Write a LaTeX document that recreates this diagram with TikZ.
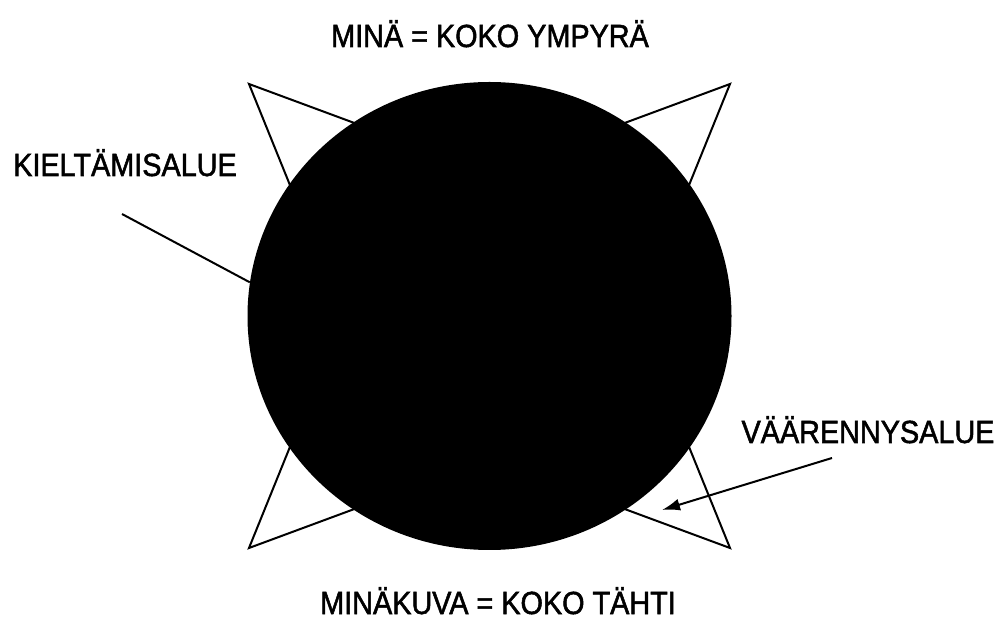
\documentclass[tikz,border=0pt]{standalone}
\usepackage{fontspec}
\setmainfont[FakeStretch=0.9,FakeBold=1.6]{Liberation Sans}
\usetikzlibrary{arrows.meta,shapes.geometric}
\definecolor{Ink}{HTML}{000000}
\definecolor{Paper}{HTML}{FFFFFF}
\tikzset{
  selfdisc/.style={
    ellipse, fill=Ink, inner sep=0pt,
    minimum width=484pt, minimum height=468pt
  },
  starline/.style={draw=Ink, line width=2pt, fill=Paper},
  caption/.style={inner sep=0pt, anchor=base, font=\fontsize{32}{36}\selectfont},
  leader/.style={draw=Ink, line width=2pt},
  pointer/.style={-{Latex[length=18pt,width=12pt]}, draw=Ink, line width=2pt}
}

\begin{document}
\begin{tikzpicture}[x=1pt,y=1pt]
    \useasboundingbox (0,0) rectangle (994,619);
    % star first, the disc covers its middle
    \draw[starline] (249,535) -- (489.5,446) -- (730,535) -- (636,303)
      -- (730,71) -- (489.5,160) -- (249,71) -- (343,303) -- cycle;
    \node[selfdisc] (mina) at (489.5,303) {};
    \node[caption] (self) at (490,572) {MINÄ = KOKO YMPYRÄ};
    \node[caption,anchor=base west] (denial) at (13,443) {KIELTÄMISALUE};
    \node[caption] (forgery) at (868,176) {VÄÄRENNYSALUE};
    \node[caption] (image) at (498,5) {MINÄKUVA = KOKO TÄHTI};
    \coordinate (dstart) at (122,405);
    \coordinate (fstart) at (832,161);
    \coordinate (fend) at (662,109);
    \draw[leader] (dstart)--(mina.172);
    \draw[pointer] (fstart)--(fend);
  \end{tikzpicture}
\end{document}
